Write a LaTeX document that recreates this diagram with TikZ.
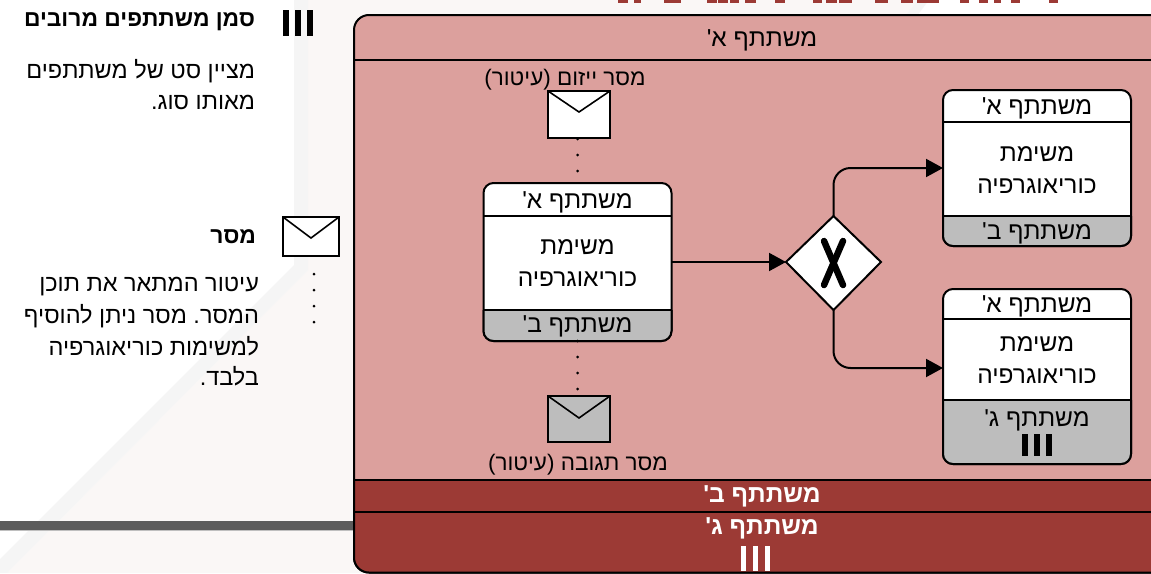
\documentclass[tikz,border=0pt]{standalone}
\usepackage{fontspec}
\setmainfont[Script=Hebrew,Ligatures=TeXOff]{Liberation Sans}
\TeXXeTstate=1
\frenchspacing
\usepackage{tikz}
\usetikzlibrary{arrows.meta}
\newcommand{\heb}[1]{\beginR #1\endR}
\definecolor{poollight}{HTML}{DCA09D}
\definecolor{pooldark}{HTML}{9C3A35}
\definecolor{bandgray}{HTML}{BDBDBD}
\definecolor{paperbg}{HTML}{FAF7F6}
\definecolor{paperstrip}{HTML}{F5F5F5}
\definecolor{barline}{HTML}{5C5C5C}
\tikzstyle{poolbox}=[draw=black,line width=2,rounded corners=15,inner sep=0,outer sep=0,minimum width=900,minimum height=557.5]
\tikzstyle{taskbox}=[draw=black,fill=white,line width=2,rounded corners=10,inner sep=0,outer sep=0,minimum width=188]
\tikzstyle{envelope}=[draw=black,line width=2,inner sep=0,outer sep=0]
\tikzstyle{txt}=[inner sep=0,outer sep=0,font=\fontsize{24.5}{32}\selectfont,align=center]
\tikzstyle{bold}=[txt,font=\fontsize{24.5}{32}\selectfont\bfseries]
\tikzstyle{msgtxt}=[txt,font=\fontsize{22.5}{28}\selectfont]
\tikzstyle{keytxt}=[txt,anchor=east,font=\fontsize{23.5}{28}\selectfont]
\tikzstyle{keyhead}=[txt,anchor=east,font=\fontsize{22.8}{28}\selectfont\bfseries]
\tikzstyle{flow}=[draw=black,line width=2,-{Triangle[length=17,width=18]}]
\tikzstyle{msg}=[draw=black,line width=3,line cap=round,dash pattern=on 0pt off 16pt]

\begin{document}
\begin{tikzpicture}[x=1pt,y=-1pt]
      \useasboundingbox (0,0) rectangle (1151,573);
      \clip (0,0) rectangle (1151,573);

      % faint page background
      \fill[paperbg] (308,0) -- (918,0) -- (905,16) -- (905,573) -- (7,573) -- (308,270) -- cycle;
      \fill[paperstrip] (294,0) -- (308,0) -- (308,270) -- (7,573) -- (0,573) -- (0,559) -- (294,265) -- cycle;
      \fill[paperstrip] (918,0) -- (929,0) -- (917,16) -- (905,16) -- cycle;
      \fill[barline] (0,521) rectangle (354,530);
      \fill[black!25] (0,530) rectangle (354,531);

      % what is left of the title
      \foreach \a/\b in {618/628,634/641,664/681,707/717,718/728,730/739,745/756,775/785,813/822,826/837,839/852,875/888,901/913,917/939,960/969,979/988,994/1001,1011/1020,1049/1058}{
        \fill[pooldark] (\a,0) rectangle (\b,3);
      }

      % pool with its bands
      \node[poolbox,fill=poollight] (pool) at (804,293.75) {};
      \begin{scope}
        \clip (340,480) rectangle (1151,580);
        \node[poolbox,fill=pooldark] at (804,293.75) {};
      \end{scope}
      \coordinate (p1) at (354,60);
      \coordinate (p2) at (354,480);
      \coordinate (p3) at (354,512);
      \foreach \i in {1,2,3}{
        \draw[line width=2] (p\i) -- (1151,0 |- p\i);
      }
      \node[txt] (poolA) at (762,40) {\heb{משתתף א'}};
      \node[bold,text=white] (poolB) at (762,496) {\heb{משתתף ב'}};
      \node[bold,text=white] (poolC) at (762,528.5) {\heb{משתתף ג'}};

      % three choreography tasks
      \foreach \t/\xc/\yc/\h/\dA/\dB in {taskA/577.5/262/158/216/310,taskB/1037/168/156/122/216,taskC/1037/376.5/175/319/400}{
        \node[taskbox,minimum height=\h] (\t) at (\xc,\yc) {};
        \begin{scope}
          \clip (\xc-100,\dB) rectangle (\xc+100,\yc+\h/2+5);
          \node[taskbox,fill=bandgray,minimum height=\h] at (\xc,\yc) {};
        \end{scope}
        \coordinate (\t a) at (\xc-94,\dA);
        \coordinate (\t b) at (\xc-94,\dB);
        \draw[line width=2] (\t a) -- (\xc+94,\dA);
        \draw[line width=2] (\t b) -- (\xc+94,\dB);
      }
      \node[txt] (taskAtop) at (577.5,202) {\heb{משתתף א'}};
      \node[txt] (taskAname) at (577.5,263.5) {\heb{משימת}\\\heb{כוריאוגרפיה}};
      \node[txt] (taskAbot) at (577.5,326) {\heb{משתתף ב'}};
      \node[txt] (taskBtop) at (1037,108) {\heb{משתתף א'}};
      \node[txt] (taskBname) at (1037,170.5) {\heb{משימת}\\\heb{כוריאוגרפיה}};
      \node[txt] (taskBbot) at (1037,233) {\heb{משתתף ב'}};
      \node[txt] (taskCtop) at (1037,306.5) {\heb{משתתף א'}};
      \node[txt] (taskCname) at (1037,360.5) {\heb{משימת}\\\heb{כוריאוגרפיה}};
      \node[txt] (taskCbot) at (1037,420) {\heb{משתתף ג'}};

      % gateway
      \coordinate (gwL) at (786,262);
      \coordinate (gwT) at (833.5,216);
      \coordinate (gwR) at (881,262);
      \coordinate (gwB) at (833.5,310);
      \draw[draw=black,fill=white,line width=2] (gwL) -- (gwT) -- (gwR) -- (gwB) -- cycle;
      \coordinate (x1) at (824,241);
      \coordinate (x2) at (843,285);
      \coordinate (x3) at (843,241);
      \coordinate (x4) at (824,285);
      \draw[line width=6.5,line cap=round] (x1) -- (x2);
      \draw[line width=6.5,line cap=round] (x3) -- (x4);

      \draw[flow] (taskA.east) -- (gwL);
      \draw[flow,rounded corners=17] (gwT) |- (taskB.west);
      \draw[flow,rounded corners=17] (gwB) |- ([yshift=8.5]taskC.west);

      % envelopes
      \foreach \e/\xc/\yc/\w/\h/\d/\col in {msgA/579/114.5/62/47/21/white,msgB/579/419/62/46/22/bandgray,keyMsg/311/236.5/56/39/21/white}{
        \node[envelope,fill=\col,minimum width=\w,minimum height=\h] (\e) at (\xc,\yc) {};
        \coordinate (\e f) at (\xc,\yc-\h/2+\d);
        \draw[line width=1.6] (\e.north west) -- (\e f) -- (\e.north east);
      }
      \node[msgtxt] (msgAtxt) at (565,79.5) {\heb{מסר ייזום (עיטור)}};
      \node[msgtxt] (msgBtxt) at (578,464.5) {\heb{מסר תגובה (עיטור)}};

      \coordinate (d1) at (577.5,139);
      \coordinate (d2) at (577.5,183);
      \coordinate (d3) at (577.5,341);
      \coordinate (d4) at (577.5,396);
      \coordinate (d5) at (314,274);
      \coordinate (d6) at (314,324);
      \draw[msg] (d1) -- (d2);
      \draw[msg] (d3) -- (d4);
      \draw[msg] (d5) -- (d6);

      % participant marks
      \foreach \x/\ya/\yb/\col/\w in {283/10/36/black/6,1022/434/456/black/6.5,740/546/571/white/5}{
        \foreach \j in {0,1,2}{
          \coordinate (m\x\j) at (\x+3+12*\j,\ya);
          \draw[\col,line width=\w] (m\x\j) -- (\x+3+12*\j,\yb);
        }
      }

      % legend
      \node[keyhead] (keyA) at (255,21.5) {\heb{סמן משתתפים מרובים}};
      \node[keytxt] (keyAa) at (255,71.5) {\heb{מציין סט של משתתפים}};
      \node[keytxt] (keyAb) at (255,102.5) {\heb{מאותו סוג.}};
      \node[keyhead] (keyB) at (256,236.5) {\heb{מסר}};
      \node[keytxt] (keyBa) at (259,286.5) {\heb{עיטור המתאר את תוכן}};
      \node[keytxt] (keyBb) at (259,316.5) {\heb{המסר. מסר ניתן להוסיף}};
      \node[keytxt] (keyBc) at (259,346) {\heb{למשימות כוריאוגרפיה}};
      \node[keytxt] (keyBd) at (259,376.5) {\heb{בלבד.}};
    \end{tikzpicture}
\end{document}
